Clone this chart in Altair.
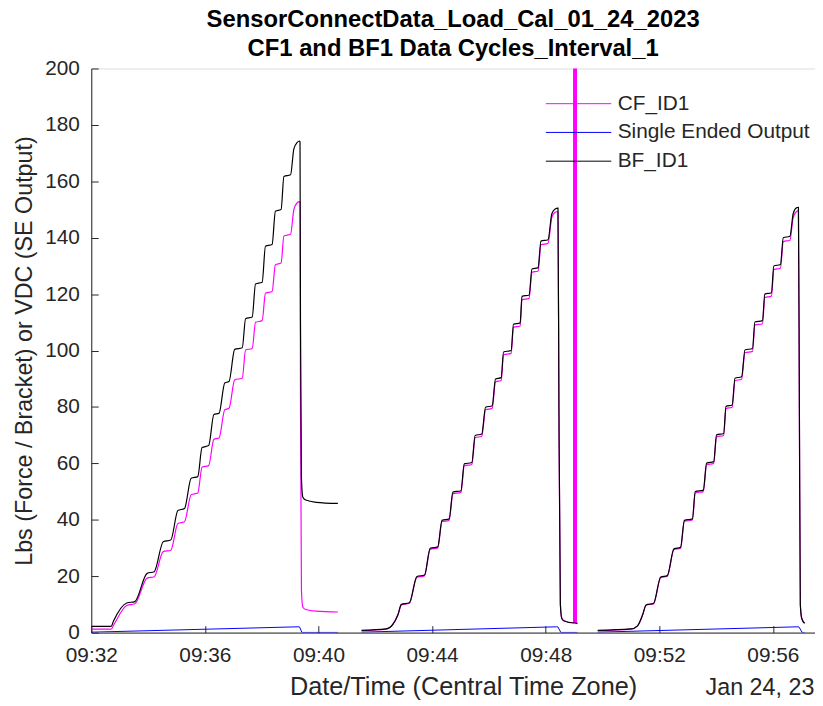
import altair as alt
import pandas as pd

FONT = "Liberation Sans"
DATE = "2023-01-24"
SERIES = ["CF_ID1", "Single Ended Output", "BF_ID1"]
COLORS = ["#FF00FF", "#0000FF", "#000000"]
X_TICKS = [(9, 32), (9, 36), (9, 40), (9, 44), (9, 48), (9, 52), (9, 56)]
X_START = (9, 32, 0)
X_END = (9, 57, 29)
Y_TICKS = [0, 20, 40, 60, 80, 100, 120, 140, 160, 180, 200]

# ---- cycle 1 ----
SEG1_TIME = ["09:32:01", "09:32:42", "09:32:47", "09:33:15", "09:33:32", "09:33:58", "09:34:13",
             "09:34:32", "09:34:48", "09:35:03", "09:35:17", "09:35:31", "09:35:45", "09:35:54",
             "09:36:08", "09:36:19", "09:36:30", "09:36:42", "09:36:51", "09:37:03", "09:37:19",
             "09:37:26", "09:37:40", "09:37:47", "09:38:01", "09:38:08", "09:38:22", "09:38:29",
             "09:38:41", "09:38:47", "09:39:01", "09:39:08", "09:39:15", "09:39:20", "09:39:21",
             "09:39:22", "09:39:24", "09:39:27", "09:39:33", "09:39:55", "09:40:41"]
SEG1_BF = [2.2, 2.2, 4.1, 10.5, 11.0, 21.0, 21.6, 32.2, 32.8, 43.3, 44.0, 54.7, 55.3, 65.6,
           66.3, 77.3, 77.8, 88.5, 89.0, 100.4, 101.0, 111.3, 111.9, 123.6, 124.2, 137.0, 137.6,
           149.4, 150.0, 161.7, 162.3, 171.5, 173.8, 174.3, 174.0, 110.0, 55.0, 48.0, 47.0, 46.2, 45.8]
SEG1_CF = [1.2, 1.2, 2.6, 9.6, 10.2, 19.3, 19.8, 28.7, 29.2, 38.7, 39.3, 48.9, 49.5, 58.6,
           59.2, 68.5, 69.0, 79.0, 79.5, 89.6, 90.2, 100.2, 100.7, 110.0, 110.6, 120.3, 120.9,
           130.4, 131.0, 140.6, 141.2, 150.0, 152.4, 152.8, 152.6, 80.0, 15.0, 9.0, 8.2, 7.6, 7.3]

# ---- cycle 2 (CF has an out-of-range burst at the end) ----
SEG2_TIME = ["09:41:31", "09:42:23", "09:42:37", "09:42:48", "09:42:55", "09:43:12", "09:43:28",
             "09:43:44", "09:43:56", "09:44:12", "09:44:21", "09:44:36", "09:44:44", "09:45:01",
             "09:45:08", "09:45:24", "09:45:31", "09:45:45", "09:45:53", "09:46:07", "09:46:14",
             "09:46:26", "09:46:31", "09:46:47", "09:46:52", "09:47:06", "09:47:10", "09:47:25",
             "09:47:31", "09:47:44", "09:47:50", "09:48:05", "09:48:13", "09:48:20", "09:48:26",
             "09:48:28", "09:48:31", "09:48:34", "09:48:39", "09:48:59", "09:49:00", "09:49:01",
             "09:49:02", "09:49:03", "09:49:04", "09:49:05", "09:49:07"]
SEG2_BF = [0.8, 1.3, 2.9, 6.4, 10.0, 10.6, 19.9, 20.4, 29.9, 30.4, 39.8, 40.3, 49.8, 50.3,
           59.8, 60.3, 69.9, 70.4, 79.9, 80.4, 89.9, 90.4, 99.5, 100.0, 109.3, 109.8, 119.2,
           119.7, 128.9, 129.4, 138.8, 139.3, 148.5, 150.2, 150.5, 80.0, 10.0, 5.0, 4.1, 3.4,
           3.4, 3.4, 3.4, 3.4, 3.3, 3.3, 3.3]
SEG2_CF = [0.7, 1.2, 2.8, 6.3, 9.8, 10.4, 19.6, 20.1, 29.5, 30.0, 39.3, 39.8, 49.2, 49.7,
           59.1, 59.6, 69.1, 69.6, 79.0, 79.5, 88.9, 89.4, 98.5, 99.0, 108.2, 108.7, 118.0,
           118.5, 127.7, 128.2, 137.5, 138.0, 147.2, 149.0, 149.3, 79.0, 10.5, 5.2, 4.2, 3.5,
           2500.0, 3.4, 2500.0, 3.4, 2500.0, 3.3, 3.3]

# ---- cycle 3 ----
SEG3_TIME = ["09:49:50", "09:51:00", "09:51:14", "09:51:25", "09:51:32", "09:51:48", "09:52:03",
             "09:52:17", "09:52:31", "09:52:45", "09:52:53", "09:53:10", "09:53:16", "09:53:33",
             "09:53:40", "09:53:55", "09:54:01", "09:54:16", "09:54:21", "09:54:34", "09:54:40",
             "09:54:54", "09:55:01", "09:55:17", "09:55:22", "09:55:38", "09:55:43", "09:55:57",
             "09:56:02", "09:56:16", "09:56:22", "09:56:36", "09:56:43", "09:56:50", "09:56:54",
             "09:56:56", "09:56:58", "09:57:01", "09:57:07"]
SEG3_BF = [0.8, 1.3, 2.4, 6.4, 9.8, 10.4, 19.7, 20.2, 29.7, 30.2, 39.8, 40.3, 50.0, 50.5,
           60.1, 60.6, 70.1, 70.6, 80.2, 80.7, 90.2, 90.7, 100.2, 100.7, 110.1, 110.6, 120.0,
           120.5, 130.0, 130.5, 140.0, 140.5, 148.6, 150.6, 150.8, 80.0, 10.0, 5.0, 3.3]
SEG3_CF = [0.7, 1.2, 2.3, 6.3, 9.7, 10.2, 19.5, 20.0, 29.4, 29.9, 39.4, 39.9, 49.5, 50.0,
           59.5, 60.0, 69.4, 69.9, 79.4, 79.9, 89.3, 89.8, 99.2, 99.7, 109.0, 109.5, 118.8,
           119.3, 128.7, 129.2, 138.6, 139.1, 147.2, 149.3, 149.6, 79.0, 10.0, 5.0, 3.3]

# ---- single ended output ----
SE1_TIME = ["09:32:01", "09:39:17", "09:39:20", "09:39:25", "09:40:41"]
SE1_VAL = [0.15, 2.05, 2.0, 0.05, 0.05]
SE2_TIME = ["09:41:31", "09:48:23", "09:48:26", "09:48:32", "09:49:07"]
SE2_VAL = [0.15, 2.05, 2.0, 0.05, 0.05]
SE3_TIME = ["09:49:50", "09:56:53", "09:56:55", "09:57:02", "09:57:07"]
SE3_VAL = [0.15, 2.05, 2.0, 0.05, 0.05]

TITLE = "SensorConnectData_Load_Cal_01_24_2023"
SUBTITLE = "CF1 and BF1 Data Cycles_Interval_1"
X_TITLE = "Date/Time (Central Time Zone)"
Y_TITLE = "Lbs (Force / Bracket) or VDC (SE Output)"
DATE_LABEL = "Jan 24, 23"


def rows(times, vals, series, seg):
    return [{"time": f"{DATE}T{t}", "value": v, "series": series, "seg": seg}
            for t, v in zip(times, vals)]


cf_df = pd.DataFrame(rows(SEG1_TIME, SEG1_CF, SERIES[0], 1) + rows(SEG2_TIME, SEG2_CF, SERIES[0], 2)
                     + rows(SEG3_TIME, SEG3_CF, SERIES[0], 3))
se_df = pd.DataFrame(rows(SE1_TIME, SE1_VAL, SERIES[1], 1) + rows(SE2_TIME, SE2_VAL, SERIES[1], 2)
                     + rows(SE3_TIME, SE3_VAL, SERIES[1], 3))
bf_df = pd.DataFrame(rows(SEG1_TIME, SEG1_BF, SERIES[2], 1) + rows(SEG2_TIME, SEG2_BF, SERIES[2], 2)
                     + rows(SEG3_TIME, SEG3_BF, SERIES[2], 3))


def dt(h, m, s=0):
    return alt.DateTime(year=2023, month=1, date=24, hours=h, minutes=m, seconds=s)


x_values = [dt(h, m) for h, m in X_TICKS]
x_scale = alt.Scale(domain=[dt(*X_START), dt(*X_END)])
y_scale = alt.Scale(domain=[0, 200], nice=False, zero=True)
color_scale = alt.Scale(domain=SERIES, range=COLORS)

W, H = 730, 569
AX = "#262626"

legend = alt.Legend(orient="none", legendX=453, legendY=25, title=None,
                    symbolType="M-1,0H12.2", symbolSize=100, symbolStrokeWidth=1,
                    labelFont=FONT, labelFontSize=21, labelColor=AX, labelOffset=57,
                    labelLimit=0, rowPadding=7, padding=0)

main_x = alt.Axis(values=x_values, format="%H:%M", labelFont=FONT, labelFontSize=21,
                  labelColor=AX, labelPadding=12, labelFlush=False, labelOverlap=False,
                  ticks=False, tickSize=0, domainColor=AX, domainWidth=1, grid=False,
                  title=X_TITLE, titleFont=FONT, titleFontSize=25.5, titleFontWeight="normal",
                  titleColor=AX, titleX=375, titleY=62, titleBaseline="alphabetic",
                  titleAlign="center")
main_y = alt.Axis(values=Y_TICKS, labelFont=FONT, labelFontSize=21, labelColor=AX,
                  labelPadding=12, ticks=False, tickSize=0, domainColor=AX, domainWidth=1,
                  grid=False, title=Y_TITLE, titleFont=FONT, titleFontSize=23.5,
                  titleFontWeight="normal", titleColor=AX, titleX=-67, titleY=H / 2,
                  titleAngle=270, titleBaseline="middle", titleAlign="center")
tick_x = alt.Axis(orient="top", offset=-H, values=x_values, labels=False, domain=False,
                  ticks=True, tickSize=7, tickColor=AX, tickWidth=1, grid=False,
                  title=DATE_LABEL, titleFont=FONT, titleFontSize=23.5, titleFontWeight="normal",
                  titleColor=AX, titleX=674, titleY=62, titleBaseline="alphabetic",
                  titleAlign="center")
tick_y = alt.Axis(orient="right", offset=-W, values=Y_TICKS, labels=False, domain=False,
                  ticks=True, tickSize=7, tickColor=AX, tickWidth=1, grid=False, title=None)


def layer(df, xaxis, yaxis, interp, sw):
    return alt.Chart(df).mark_line(interpolate=interp, clip=True, strokeWidth=sw).encode(
        x=alt.X("time:T", scale=x_scale, axis=xaxis),
        y=alt.Y("value:Q", scale=y_scale, axis=yaxis),
        color=alt.Color("series:N", scale=color_scale, legend=legend),
        detail=alt.Detail("seg:N"),
    )


cf_layer = layer(cf_df, main_x, main_y, "monotone", 1.2)
se_layer = layer(se_df, None, None, "linear", 1.0)
bf_layer = layer(bf_df, tick_x, tick_y, "monotone", 1.2)

chart = alt.layer(cf_layer, se_layer, bf_layer).resolve_axis(
    x="independent", y="independent"
).properties(
    width=W, height=H,
    autosize=alt.AutoSizeParams(type="none"),
    padding={"left": 84, "top": 58, "right": 0, "bottom": 67},
    title=alt.TitleParams(text=TITLE, subtitle=SUBTITLE, font=FONT, fontSize=24,
                          fontWeight="bold", color="#000000", subtitleFont=FONT,
                          subtitleFontSize=24, subtitleFontWeight="bold",
                          subtitleColor="#000000", subtitlePadding=5, anchor="middle",
                          offset=-3),
).configure_view(stroke=None).configure(background="white")

chart.save("out.html", embed_options={"renderer": "svg", "actions": False})
